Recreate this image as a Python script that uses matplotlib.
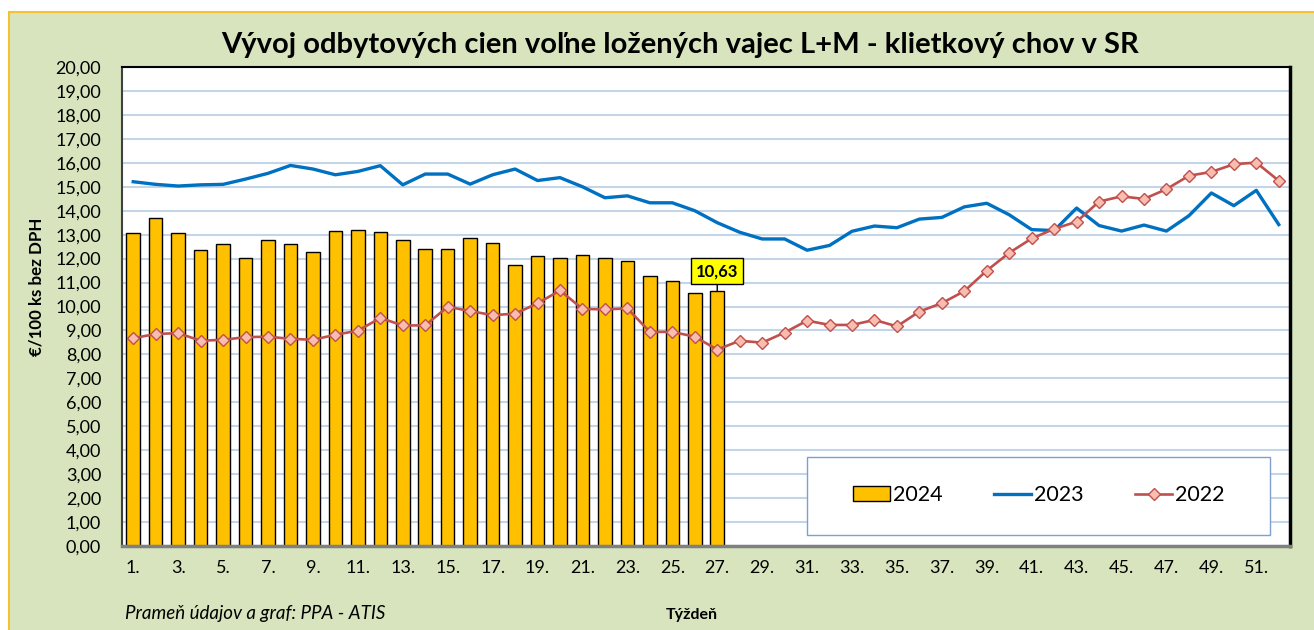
import matplotlib
matplotlib.use('Agg')
import matplotlib.pyplot as plt
from matplotlib.patches import Rectangle, Patch
from matplotlib.lines import Line2D
from matplotlib.ticker import FuncFormatter

plt.rcParams['font.family'] = ['Lato', 'DejaVu Sans']

# ---------------- data ----------------
weeks = list(range(1, 53))
week_labels = [f"{w}." for w in weeks[::2]]

prices_2024 = [13.06, 13.68, 13.06, 12.37, 12.60, 12.04, 12.78, 12.63, 12.27, 13.15,
               13.21, 13.10, 12.77, 12.40, 12.40, 12.85, 12.65, 11.72, 12.10, 12.01,
               12.13, 12.02, 11.90, 11.28, 11.08, 10.55, 10.63]

prices_2023 = [15.21, 15.10, 15.03, 15.08, 15.10, 15.32, 15.56, 15.89, 15.74, 15.50,
               15.64, 15.88, 15.08, 15.53, 15.53, 15.11, 15.50, 15.74, 15.26, 15.38,
               15.00, 14.54, 14.62, 14.33, 14.33, 14.00, 13.50, 13.10, 12.82, 12.82,
               12.35, 12.55, 13.14, 13.36, 13.29, 13.65, 13.72, 14.16, 14.31, 13.83,
               13.21, 13.17, 14.11, 13.38, 13.15, 13.40, 13.15, 13.79, 14.74, 14.21,
               14.85, 13.42]

prices_2022 = [8.68, 8.85, 8.89, 8.57, 8.61, 8.72, 8.74, 8.65, 8.61, 8.82,
               8.99, 9.52, 9.21, 9.21, 9.99, 9.81, 9.64, 9.70, 10.13, 10.67,
               9.90, 9.88, 9.92, 8.94, 8.94, 8.74, 8.20, 8.57, 8.49, 8.91,
               9.41, 9.23, 9.23, 9.44, 9.17, 9.79, 10.14, 10.64, 11.50, 12.24,
               12.84, 13.24, 13.54, 14.38, 14.60, 14.49, 14.90, 15.46, 15.62, 15.94,
               16.01, 15.25]

series_names = ['2024', '2023', '2022']
title = 'Vývoj odbytových cien voľne ložených vajec L+M - klietkový chov v SR'
y_label = '€/100 ks bez DPH'
x_label = 'Týždeň'
source = 'Prameň údajov a graf: PPA - ATIS'

# ---------------- figure ----------------
W, H = 1314, 630
fig = plt.figure(figsize=(W / 100, H / 100), dpi=100)
fig.patch.set_facecolor('white')
bg = Rectangle((9 / W, -0.05), 1.2, 1 - 12 / H + 0.05, transform=fig.transFigure,
               facecolor='#D7E4BD', edgecolor='#F2C230', lw=1.5, zorder=-10)
fig.patches.append(bg)

ax = fig.add_axes([122 / W, (H - 546) / H, 1168 / W, 479 / H])
ax.set_zorder(1)
ax.set_facecolor('white')
ax.set_xlim(0.5, 52.5)
ax.set_ylim(0, 20)
ax.set_yticks(range(0, 21))
ax.yaxis.set_major_formatter(FuncFormatter(lambda v, p: f"{v:.2f}".replace('.', ',')))
ax.set_xticks(weeks[::2])
ax.set_xticklabels(week_labels)
ax.grid(axis='y', color='#C5D5E8', lw=1.5)
ax.set_axisbelow(True)
ax.tick_params(length=0, labelsize=13, colors='black')
ax.tick_params(axis='y', pad=15)
ax.tick_params(axis='x', pad=10)

ax.spines['top'].set_color('black')
ax.spines['top'].set_linewidth(1.5)
ax.spines['right'].set_color('black')
ax.spines['right'].set_linewidth(2.5)
ax.spines['bottom'].set_color('#808080')
ax.spines['bottom'].set_linewidth(2.5)
ax.spines['left'].set_color('#404040')
ax.spines['left'].set_linewidth(1.5)

bars = ax.bar(weeks[:len(prices_2024)], prices_2024, width=0.6, color='#FFC000',
              edgecolor='black', lw=1, zorder=2)
ax.plot(weeks, prices_2023, color='#0070C0', lw=2.4, zorder=3,
        solid_joinstyle='round')
ax.plot(weeks, prices_2022, color='#C0504D', lw=1.9, marker='D', ms=6.5,
        mfc='#F9BDAF', mec='#C0504D', mew=1, zorder=4)

last_week = len(prices_2024)
last_val = prices_2024[-1]
ax.annotate(f"{last_val:.2f}".replace('.', ','), xy=(last_week, last_val),
            xytext=(last_week, last_val + 0.85), ha='center', va='center',
            fontsize=12, fontweight='bold',
            bbox=dict(boxstyle='square,pad=0.3', fc='#FFFF00', ec='black', lw=1),
            arrowprops=dict(arrowstyle='-', color='black', lw=1, shrinkA=0, shrinkB=0),
            zorder=6)

# legend box
ax.add_patch(Rectangle((0.5865, 0.023), 0.3965, 0.163, transform=ax.transAxes,
                       facecolor='white', edgecolor='#7F9FCF', lw=1, zorder=5))
handles = [Patch(facecolor='#FFC000', edgecolor='black', label=series_names[0]),
           Line2D([], [], color='#0070C0', lw=2.4, label=series_names[1]),
           Line2D([], [], color='#C0504D', lw=1.9, marker='D', ms=6.5,
                  mfc='#F9BDAF', mec='#C0504D', label=series_names[2])]
leg = ax.legend(handles=handles, loc='center', bbox_to_anchor=(0.785, 0.106), ncol=3,
                frameon=False, fontsize=15.5, handlelength=1.7, handletextpad=0.15,
                columnspacing=2.4)
leg.set_zorder(7)

fig.text(680 / W, 1 - 45 / H, title, ha='center', va='center', fontsize=21,
         fontweight='bold')
fig.text(37 / W, 1 - 287 / H, y_label, rotation=90, ha='center', va='center',
         fontsize=12.2, fontweight='bold')
fig.text(692 / W, 1 - 615 / H, x_label, ha='center', va='center', fontsize=11.5,
         fontweight='bold')
fig.text(125 / W, 1 - 613 / H, source, ha='left', va='center', fontsize=13.5,
         style='italic')

fig.savefig('out.png', dpi=100)
